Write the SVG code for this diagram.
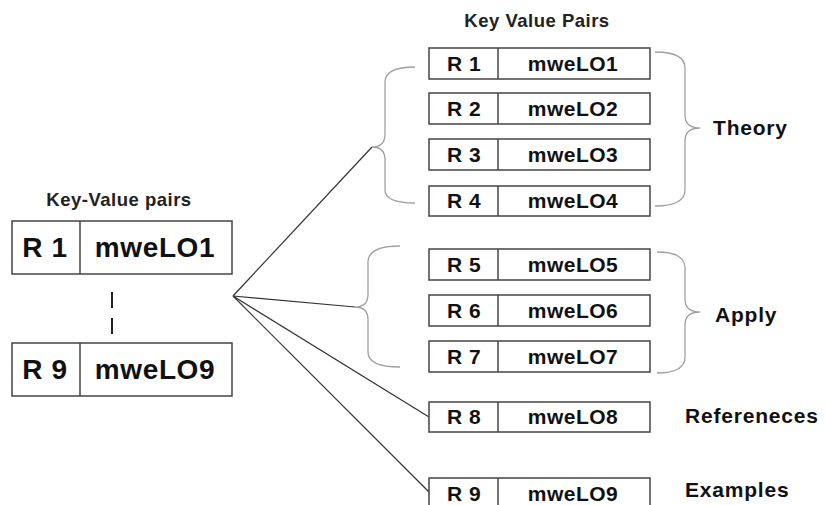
<svg xmlns="http://www.w3.org/2000/svg" width="826" height="505" viewBox="0 0 826 505">
  <style>
    text { font-family: "Liberation Sans", Arial, sans-serif; font-weight: bold; fill: #111; }
    .box { fill: #fff; stroke: #444; stroke-width: 1.5; }
    .big { font-size: 28px; letter-spacing: 0.6px; }
    .small { font-size: 21px; letter-spacing: 0.5px; }
    .title { font-size: 18.5px; letter-spacing: 0.5px; fill: #222; }
    .label { font-size: 21px; letter-spacing: 0.8px; }
    .brace { fill: none; stroke: #a0a0a0; stroke-width: 1.3; }
    .link { fill: none; stroke: #333; stroke-width: 1.2; }
  </style>
  <rect width="826" height="505" fill="#fff"/>

  <!-- left side: the full key-value table in brief -->
  <text class="title" x="119" y="206" text-anchor="middle">Key-Value pairs</text>
  <g id="left-r1">
    <rect class="box" x="12" y="221" width="220" height="53"/>
    <line class="box" x1="80" y1="221" x2="80" y2="274"/>
    <text class="big" x="45" y="257" text-anchor="middle">R 1</text>
    <text class="big" x="155" y="257" text-anchor="middle">mweLO1</text>
  </g>
  <g id="left-gap">
    <line x1="112" y1="292" x2="112" y2="308" stroke="#222" stroke-width="2"/>
    <line x1="112" y1="318" x2="112" y2="334" stroke="#222" stroke-width="2"/>
  </g>
  <g id="left-r9">
    <rect class="box" x="12" y="343" width="220" height="53"/>
    <line class="box" x1="80" y1="343" x2="80" y2="396"/>
    <text class="big" x="45" y="379" text-anchor="middle">R 9</text>
    <text class="big" x="155" y="379" text-anchor="middle">mweLO9</text>
  </g>

  <!-- connectors from the hub -->
  <g id="connectors">
    <line class="link" x1="233" y1="296" x2="372" y2="147"/>
    <line class="link" x1="233" y1="296" x2="355" y2="307"/>
    <line class="link" x1="233" y1="296" x2="429" y2="417"/>
    <line class="link" x1="233" y1="296" x2="429" y2="492"/>
  </g>

  <!-- braces -->
  <g id="braces">
    <path class="brace" d="M415,67 Q385,67 385,82 L385,134 Q385,147 372,147 Q385,147 385,160 L385,190 Q385,203 415,203"/>
    <path class="brace" d="M400,246 Q368,246 368,262 L368,294 Q368,307 355,307 Q368,307 368,320 L368,352 Q368,367 400,367"/>
    <path class="brace" d="M655,52 Q685,52 685,68 L685,115 Q685,128 700,128 Q685,128 685,141 L685,190 Q685,206 655,206"/>
    <path class="brace" d="M657,252 Q685,252 685,268 L685,299 Q685,312 700,312 Q685,312 685,325 L685,357 Q685,373 657,373"/>
  </g>

  <!-- right side: key-value pairs -->
  <text class="title" x="537" y="27" text-anchor="middle">Key Value Pairs</text>
  <g id="r1">
    <rect class="box" x="429" y="48" width="221" height="31"/>
    <line class="box" x1="498" y1="48" x2="498" y2="79"/>
    <text class="small" x="464" y="71" text-anchor="middle">R 1</text>
    <text class="small" x="573" y="71" text-anchor="middle">mweLO1</text>
  </g>
  <g id="r2">
    <rect class="box" x="429" y="93" width="221" height="31"/>
    <line class="box" x1="498" y1="93" x2="498" y2="124"/>
    <text class="small" x="464" y="116" text-anchor="middle">R 2</text>
    <text class="small" x="573" y="116" text-anchor="middle">mweLO2</text>
  </g>
  <g id="r3">
    <rect class="box" x="429" y="139" width="221" height="31"/>
    <line class="box" x1="498" y1="139" x2="498" y2="170"/>
    <text class="small" x="464" y="162" text-anchor="middle">R 3</text>
    <text class="small" x="573" y="162" text-anchor="middle">mweLO3</text>
  </g>
  <g id="r4">
    <rect class="box" x="429" y="186" width="221" height="30"/>
    <line class="box" x1="498" y1="186" x2="498" y2="216"/>
    <text class="small" x="464" y="208" text-anchor="middle">R 4</text>
    <text class="small" x="573" y="208" text-anchor="middle">mweLO4</text>
  </g>
  <g id="r5">
    <rect class="box" x="429" y="249" width="221" height="31"/>
    <line class="box" x1="498" y1="249" x2="498" y2="280"/>
    <text class="small" x="464" y="272" text-anchor="middle">R 5</text>
    <text class="small" x="573" y="272" text-anchor="middle">mweLO5</text>
  </g>
  <g id="r6">
    <rect class="box" x="429" y="295" width="221" height="31"/>
    <line class="box" x1="498" y1="295" x2="498" y2="326"/>
    <text class="small" x="464" y="318" text-anchor="middle">R 6</text>
    <text class="small" x="573" y="318" text-anchor="middle">mweLO6</text>
  </g>
  <g id="r7">
    <rect class="box" x="429" y="341" width="221" height="31"/>
    <line class="box" x1="498" y1="341" x2="498" y2="372"/>
    <text class="small" x="464" y="364" text-anchor="middle">R 7</text>
    <text class="small" x="573" y="364" text-anchor="middle">mweLO7</text>
  </g>
  <g id="r8">
    <rect class="box" x="429" y="402" width="221" height="30"/>
    <line class="box" x1="498" y1="402" x2="498" y2="432"/>
    <text class="small" x="464" y="424" text-anchor="middle">R 8</text>
    <text class="small" x="573" y="424" text-anchor="middle">mweLO8</text>
  </g>
  <g id="r9">
    <rect class="box" x="429" y="478" width="221" height="31"/>
    <line class="box" x1="498" y1="478" x2="498" y2="509"/>
    <text class="small" x="464" y="501" text-anchor="middle">R 9</text>
    <text class="small" x="573" y="501" text-anchor="middle">mweLO9</text>
  </g>

  <!-- group labels -->
  <g id="labels">
    <text class="label" x="713" y="135">Theory</text>
    <text class="label" x="715" y="322">Apply</text>
    <text class="label" x="685" y="423">Refereneces</text>
    <text class="label" x="685" y="497">Examples</text>
  </g>
</svg>
